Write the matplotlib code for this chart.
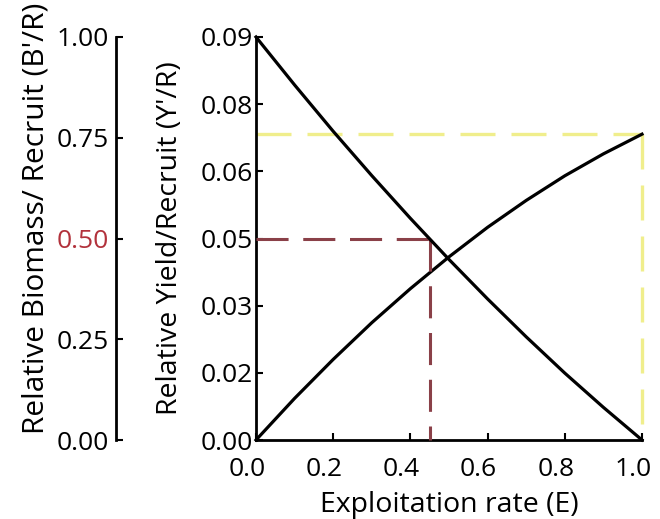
import matplotlib
matplotlib.use("Agg")
import matplotlib.pyplot as plt
import matplotlib.transforms as mtransforms

plt.rcParams['font.family'] = ['Open Sans', 'DejaVu Sans']

# Exploitation rate
E = [0.0, 0.1, 0.2, 0.3, 0.4, 0.5, 0.6, 0.7, 0.8, 0.9, 1.0]
# Relative yield per recruit (Y'/R)
YR = [0.0, 0.0093, 0.0180, 0.0262, 0.0338, 0.0409, 0.0475, 0.0535, 0.0590, 0.0639, 0.0683]
# Relative biomass per recruit (B'/R)
BR = [1.0, 0.881, 0.766, 0.656, 0.550, 0.448, 0.350, 0.256, 0.166, 0.081, 0.0]

yield_ticks = [0.0, 0.015, 0.03, 0.045, 0.06, 0.075, 0.09]
yield_ticklabels = ["0.00", "0.02", "0.03", "0.05", "0.06", "0.08", "0.09"]
bio_ticks = [0.0, 0.25, 0.5, 0.75, 1.0]
bio_ticklabels = ["0.00", "0.25", "0.50", "0.75", "1.00"]
x_ticks = [0.0, 0.2, 0.4, 0.6, 0.8, 1.0]
x_ticklabels = ["0.0", "0.2", "0.4", "0.6", "0.8", "1.0"]

E_half = 0.452   # E at B'/R = 0.5
B_half = 0.5
E_end = 1.0
Ymax = 0.0683    # yield at E = 1.0

fig = plt.figure(figsize=(6.6, 5.19), dpi=100)
ax = fig.add_axes([256/660, 1-440/519, 386/660, 403/519])
ax2 = ax.twinx()

tfs = 19
lfs = 20.5
dash = (0, (10.5, 4.8))

# main (yield) axis
ax.set_xlim(0, 1.0)
ax.set_ylim(0, 0.09)
ax.set_yticks(yield_ticks)
ax.set_yticklabels(yield_ticklabels)
ax.set_xticks(x_ticks)
ax.set_xticklabels(x_ticklabels)
ax.tick_params(direction='in', length=5, width=1.5, labelsize=tfs)
ax.tick_params(axis='y', pad=2)
ax.tick_params(axis='x', pad=12)
shift = mtransforms.ScaledTranslation(-0.09, 0, fig.dpi_scale_trans)
for lbl in ax.get_xticklabels():
    lbl.set_transform(lbl.get_transform() + shift)
for s in ['top', 'right']:
    ax.spines[s].set_visible(False)
for s in ['left', 'bottom']:
    ax.spines[s].set_linewidth(2)
ax.set_xlabel("Exploitation rate (E)", fontsize=lfs, labelpad=7)
ax.set_ylabel("Relative Yield/Recruit (Y'/R)", fontsize=lfs, labelpad=12)

# biomass axis on the far left
ax2.set_ylim(0, 1.0)
ax2.yaxis.set_ticks_position('left')
ax2.yaxis.set_label_position('left')
ax2.spines['left'].set_position(('axes', (116-256)/386))
ax2.spines['left'].set_linewidth(2)
for s in ['top', 'right', 'bottom']:
    ax2.spines[s].set_visible(False)
ax2.set_yticks(bio_ticks)
ax2.set_yticklabels(bio_ticklabels)
ax2.tick_params(direction='in', length=5, width=1.5, labelsize=tfs, pad=5)
ax2.get_yticklabels()[2].set_color('#b2323c')
ax2.set_ylabel("Relative Biomass/ Recruit (B'/R)", fontsize=lfs + 1, labelpad=2)
ax2.yaxis.set_label_coords((116-256)/386 - 0.17, 0.55)

# reference dashed lines
ax2.plot([0, E_half], [B_half, B_half], ls=dash, color='#8a4048', lw=2.2, clip_on=False)
ax2.plot([E_half, E_half], [B_half, 0], ls=dash, color='#8a4048', lw=2.2, clip_on=False)
ax.plot([0, E_end], [Ymax, Ymax], ls=dash, color='#f0ee8c', lw=2.4, clip_on=False)
ax.plot([E_end, E_end], [Ymax, 0], ls=dash, color='#f0ee8c', lw=2.4, clip_on=False)

# curves
ax.plot(E, YR, color='black', lw=2.3, clip_on=False)
ax2.plot(E, BR, color='black', lw=2.3, clip_on=False)

fig.savefig("out.png", dpi=100)
